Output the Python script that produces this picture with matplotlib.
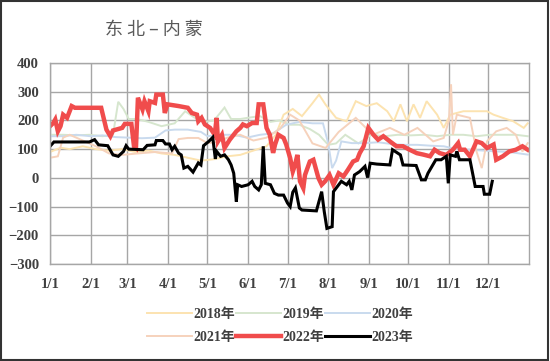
import matplotlib
matplotlib.use("Agg")
import matplotlib.pyplot as plt
from matplotlib.patches import Rectangle

plt.rcParams['font.family'] = ['Liberation Serif', 'Noto Sans CJK SC', 'DejaVu Sans']

month_days = [0, 31, 59, 90, 120, 151, 181, 212, 243, 273, 304, 334]
month_labels = ['1/1', '2/1', '3/1', '4/1', '5/1', '6/1', '7/1', '8/1', '9/1', '10/1', '11/1', '12/1']
y_ticks = [-300, -200, -100, 0, 100, 200, 300, 400]

days_2018 = [0, 8, 15, 25, 35, 45, 55, 65, 75, 85, 95, 105, 115, 125, 135, 145, 155, 165, 172, 178, 185,
             192, 200, 205, 210, 218, 226, 233, 241, 249, 257, 262, 267, 272, 277, 282, 287, 295, 300, 305,
             315, 325, 333, 338, 345, 353, 361, 364]
vals_2018 = [90, 105, 100, 110, 100, 95, 100, 90, 95, 85, 80, 70, 60, 65, 75, 80, 95, 110, 150, 220, 240,
             215, 260, 290, 255, 209, 197, 267, 250, 260, 232, 197, 256, 197, 256, 209, 267, 220, 174, 220,
             232, 232, 232, 220, 209, 197, 174, 190]

days_2019 = [0, 10, 20, 30, 40, 48, 52, 56, 60, 66, 75, 85, 95, 103, 110, 118, 125, 133, 138, 145, 152, 160,
             168, 175, 183, 190, 198, 205, 212, 218, 225, 235, 245, 255, 265, 275, 285, 295, 305, 315, 325,
             335, 345, 355, 364]
vals_2019 = [150, 150, 148, 150, 145, 150, 265, 240, 205, 205, 195, 180, 190, 232, 210, 195, 200, 245, 205,
             205, 210, 215, 195, 200, 185, 185, 170, 150, 115, 120, 150, 120, 150, 145, 150, 148, 150, 145,
             150, 150, 145, 150, 150, 150, 145]

days_2020 = [0, 10, 20, 31, 40, 50, 60, 70, 80, 88, 95, 105, 115, 120, 130, 140, 150, 160, 170, 180, 190,
             200, 208, 212, 215, 218, 222, 230, 240, 250, 260, 270, 280, 290, 300, 310, 320, 330, 340, 350, 364]
vals_2020 = [145, 145, 150, 145, 148, 142, 140, 138, 140, 165, 168, 168, 160, 145, 150, 150, 140, 150, 155,
             185, 195, 190, 190, 120, 34, 60, 127, 121, 121, 124, 118, 115, 115, 112, 110, 100, 98, 95, 92,
             90, 81]

days_2021 = [0, 6, 10, 15, 25, 35, 45, 55, 67, 80, 93, 98, 105, 113, 120, 128, 135, 145, 155, 165, 175, 183,
             190, 195, 200, 210, 220, 233, 246, 259, 270, 280, 292, 300, 304, 305.6, 307, 310, 320, 325, 329,
             333, 340, 348, 355, 360, 364]
vals_2021 = [70, 75, 140, 150, 130, 110, 85, 80, 85, 90, 85, 135, 139, 139, 121, 125, 140, 150, 130, 140,
             170, 220, 200, 160, 120, 104, 160, 209, 150, 174, 150, 174, 127, 139, 200, 326, 150, 220, 209,
             92, 34, 127, 162, 174, 150, 92, 121]

days_2022 = [0, 2.5, 4, 6, 8, 10, 13, 16.5, 19, 39, 43, 46, 48, 55, 57, 62, 64, 65.5, 67, 70.5, 72, 75, 76,
             80, 81, 86, 87.5, 89.5, 98, 105, 108, 112, 113, 115.5, 118, 122, 125.5, 127, 128, 131, 133, 137,
             142, 145, 147, 150, 154, 157.5, 159, 162.5, 165, 167.5, 170, 171.5, 174, 178, 180, 183, 185,
             186.7, 188.5, 190.5, 193, 194.3, 198, 200.7, 204.5, 207, 209.6, 213, 216, 220, 223.6, 227, 231,
             234, 236, 239, 242.6, 246.5, 250, 254, 259, 264, 269, 274, 279.5, 284.5, 289.6, 293, 297, 302,
             307, 311, 312.5, 316, 320, 325, 329, 333, 338, 340, 345, 350, 355, 360, 364]
vals_2022 = [180, 191, 203, 162, 180, 220, 209, 250, 244, 244, 168, 145, 165, 174, 188, 188, 110, 104, 279,
             238, 267, 232, 267, 261, 290, 290, 226, 256, 250, 244, 226, 220, 197, 209, 186, 174, 150, 209,
             127, 150, 104, 133, 162, 174, 186, 180, 191, 191, 256, 256, 174, 150, 87, 116, 150, 139, 116, 69,
             22, 45, 80, -12, -36, 10, 57, 63, 0, -24, -12, 10, -24, 16, 5, 28, 57, 63, 86, 110, 174, 150,
             133, 145, 127, 110, 110, 98, 86, 81, 75, 98, 86, 80, 98, 121, 98, 98, 75, 127, 121, 104, 116,
             63, 75, 92, 98, 110, 98]

days_2023 = [0, 3, 30, 34, 37, 44, 48, 52, 56, 58, 60, 71, 74, 80, 81, 86, 88, 91, 93, 95, 98, 100, 102,
             105, 109, 113, 115, 117, 121, 124, 126, 127, 130, 133, 136, 138, 140, 142, 143, 146, 151, 154,
             156, 159, 161, 162.5, 164, 168, 171, 174, 178, 181, 183, 185, 187, 190, 192, 203, 207, 209, 211,
             215, 216, 220, 222, 226, 228, 230, 232, 236, 240, 242, 244, 249, 259, 261, 267, 269, 279, 283,
             286, 288, 294, 298, 302, 303.5, 305, 309, 310, 312, 320, 324, 330, 331, 335, 337]
vals_2023 = [110, 125, 125, 133, 115, 112, 80, 75, 92, 112, 100, 98, 113, 115, 130, 130, 118, 118, 98, 110,
             86, 80, 34, 40, 20, 52, 45, 112, 127, 141, 66, 92, 75, 80, 63, 45, 16, -83, -24, -30, -24, -12,
             -30, -42, -24, 110, -19, -24, -54, -60, -60, -88, -100, -50, -35, -105, -112, -115, -48, -118,
             -176, -170, -48, -24, -12, -24, -12, -42, 10, 22, 40, 1, 51, 48, 45, 98, 80, 45, 43, -7, -7, 16,
             63, 63, 75, -19, 80, 75, 92, 63, 63, -30, -30, -57, -57, -12]

series = [
    ('2018年', days_2018, vals_2018, '#FCE3B0', 1.4),
    ('2019年', days_2019, vals_2019, '#D6E6CE', 1.4),
    ('2020年', days_2020, vals_2020, '#C9DAEE', 1.4),
    ('2021年', days_2021, vals_2021, '#F6D2BC', 1.4),
    ('2022年', days_2022, vals_2022, '#F04C4C', 3.2),
    ('2023年', days_2023, vals_2023, '#000000', 2.2),
]

fig = plt.figure(figsize=(5.5, 3.61), dpi=100)
ax = fig.add_axes([50 / 550, 1 - 264 / 361, 479 / 550, 201 / 361])

handles = {}
for name, d, v, c, lw in series:
    ln, = ax.plot(d, v, color=c, lw=lw, solid_joinstyle='miter', label=name)
    handles[name] = ln

ax.set_xlim(0, 365)
ax.set_ylim(-300, 400)
ax.set_xticks(month_days)
ax.set_xticklabels(month_labels)
ax.set_yticks(y_ticks)
ax.grid(True, color='#A6A6A6', lw=1.0)
ax.set_axisbelow(True)
for s in ax.spines.values():
    s.set_color('#A6A6A6')
    s.set_linewidth(1.0)
ax.tick_params(length=0, labelsize=10.5, colors='#404040')
ax.tick_params(axis='x', pad=10)
ax.tick_params(axis='y', pad=8)
for lab in ax.get_xticklabels() + ax.get_yticklabels():
    lab.set_fontweight('bold')

fig.text(105 / 550, 1 - 30 / 361, '东 北 – 内 蒙', fontsize=13, color='#595959',
         family=['Noto Sans CJK SC'], ha='left', va='center')

order = ['2018年', '2021年', '2019年', '2022年', '2020年', '2023年']
leg = fig.legend([handles[k] for k in order], order, ncol=3, loc='center',
                 bbox_to_anchor=(280 / 550, 1 - 326 / 361), frameon=False,
                 handlelength=3.2, handletextpad=0.1, columnspacing=0.1, labelspacing=0.75,
                 prop={'family': ['Liberation Serif', 'Noto Sans CJK SC'], 'size': 10, 'weight': 'bold'})
for t in leg.get_texts():
    t.set_color('#404040')

fig.patches.append(Rectangle((0.002, 0.003), 0.995, 0.994, transform=fig.transFigure,
                             fill=False, edgecolor='#333333', lw=1.5))

fig.savefig('out.png', dpi=100)
